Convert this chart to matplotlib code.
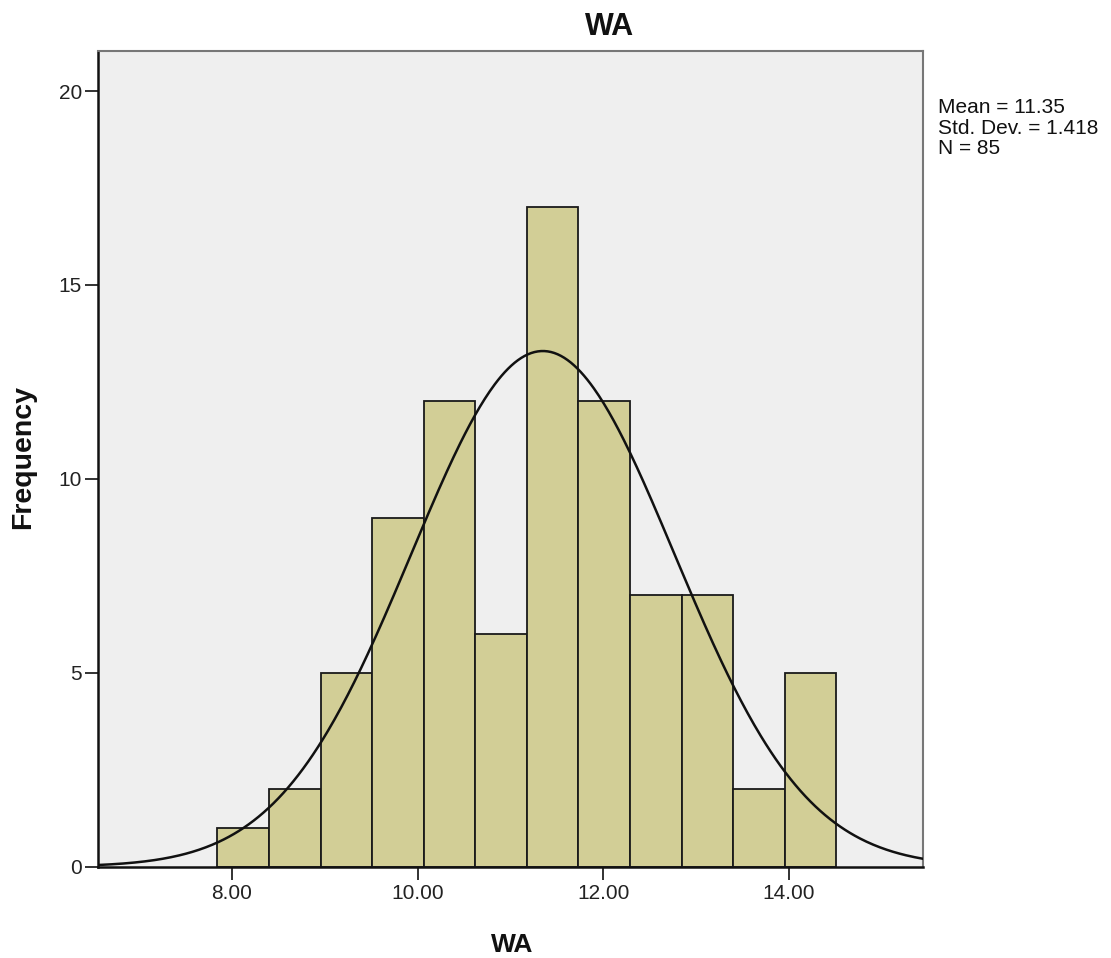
import numpy as np
import matplotlib
matplotlib.use("Agg")
import matplotlib.pyplot as plt

plt.rcParams['font.family'] = ['Liberation Sans', 'DejaVu Sans']

# Data
bin_start = 7.842
bin_width = 0.556
counts = [1, 2, 5, 9, 12, 6, 17, 12, 7, 7, 2, 5]
mean = 11.35
std = 1.418
n = 85
x_ticks = [8, 10, 12, 14]
x_tick_labels = ["8.00", "10.00", "12.00", "14.00"]
y_ticks = [0, 5, 10, 15, 20]

W, H = 1111, 958
fig = plt.figure(figsize=(W / 100, H / 100), dpi=100)
ax = fig.add_axes([98.3 / W, 1 - 866.7 / H, (922.7 - 98.3) / W, (866.7 - 50.7) / H])
ax.set_facecolor('#EFEFEF')

edges = bin_start + bin_width * np.arange(len(counts))
ax.bar(edges, counts, width=bin_width, align='edge', color='#D2CE96',
       edgecolor='#1a1a1a', linewidth=1.3, zorder=2)

xlim = (6.559, 15.444)
xs = np.linspace(xlim[0], xlim[1], 500)
ys = n * bin_width / (std * np.sqrt(2 * np.pi)) * np.exp(-0.5 * ((xs - mean) / std) ** 2)
ax.plot(xs, ys, color='#111111', linewidth=1.8, zorder=3)

ax.set_xlim(*xlim)
ax.set_ylim(0, 21.04)
ax.set_xticks(x_ticks)
ax.set_xticklabels(x_tick_labels)
ax.set_yticks(y_ticks)
ax.tick_params(axis='both', labelsize=15, length=9.4, width=1.3, color='#222222', labelcolor='#222222')
ax.tick_params(axis='x', pad=3)
ax.tick_params(axis='y', pad=2.4)

for s in ['left', 'bottom']:
    ax.spines[s].set_color('#111111')
    ax.spines[s].set_linewidth(1.8)
for s in ['top', 'right']:
    ax.spines[s].set_color('#777777')
    ax.spines[s].set_linewidth(1.5)

fig.text(610 / W, 1 - 35 / H, 'WA', fontsize=22, fontweight='bold',
         ha='center', va='baseline', color='#111111')
fig.text(512 / W, 1 - 951.5 / H, 'WA', fontsize=19, fontweight='bold',
         ha='center', va='baseline', color='#111111')
fig.text(23 / W, 1 - 457 / H, 'Frequency', fontsize=20.5, fontweight='bold',
         rotation=90, ha='center', va='center', color='#111111')

fig.text(938 / W, 1 - 98 / H, f"Mean = {mean:.2f}\nStd. Dev. = {std:.3f}\nN = {n}",
         fontsize=15, va='top', ha='left', linespacing=1.1, color='#111111')

fig.savefig('out.png', dpi=100)
